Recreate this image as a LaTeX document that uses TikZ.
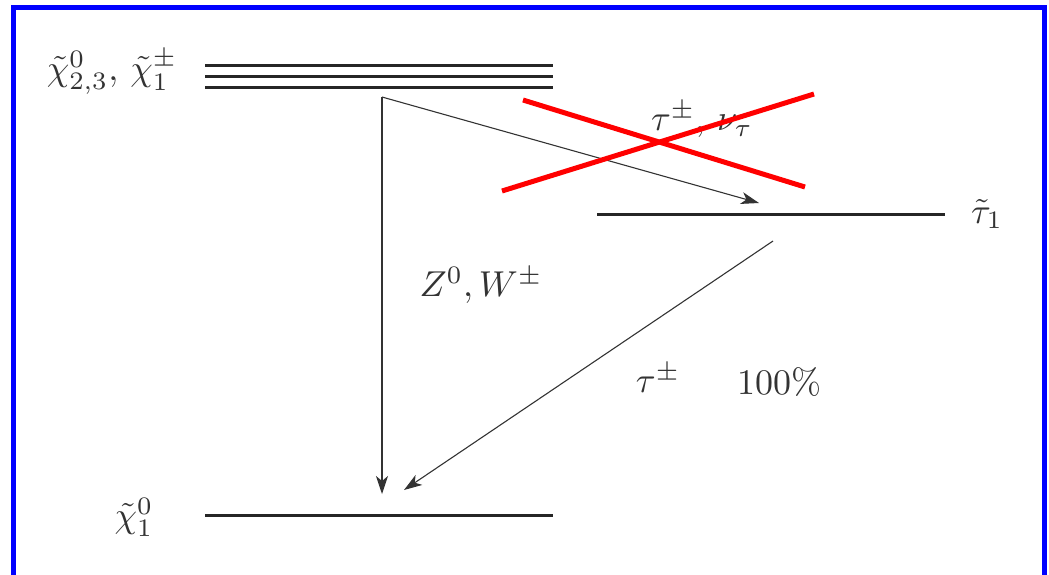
\documentclass[tikz,border=0pt]{standalone}
\usetikzlibrary{arrows.meta}
\begin{document}
\begin{tikzpicture}[x=1pt,y=-1pt,
  lvl/.style={line width=3pt,black!85},
  decay/.style={line width=1.1pt,black!80,-{Stealth[length=18pt,width=12pt,inset=5pt]}},
  veto/.style={line width=5pt,red},
  lab/.style={inner sep=0pt,scale=3.6,text=black!80}]
\useasboundingbox (0,0) rectangle (1049,574);
\begin{scope}
\clip (0,0) rectangle (1049,574);
\draw[line width=5pt,blue] (13.5,7.5) rectangle (1044.5,600);
\end{scope}
% levels
\draw[lvl] (205,65) -- (553,65);
\draw[lvl] (205,76) -- (553,76);
\draw[lvl] (205,87) -- (553,87);
\draw[lvl] (597,214) -- (945,214);
\draw[lvl] (205,515) -- (553,515);
% labels
\node[lab] (lchi) at (112,72) {$\tilde\chi^0_{2,3},\,\tilde\chi^\pm_1$};
\node[lab] (lstau) at (987,214) {$\tilde\tau_1$};
\node[lab] (llsp) at (134,517) {$\tilde\chi^0_1$};
\node[lab] (lzw) at (481,285) {$Z^0, W^\pm$};
\node[lab] (ltaunu) at (702,120) {$\tau^\pm,\,\nu_\tau$};
\node[lab] (ltau) at (658,378) {$\tau^\pm$};
\node[lab] (lbr) at (779,382) {$100\%$};
% arrow endpoints
\coordinate (src) at (382,97);
\coordinate (lspA) at (382,494);
\coordinate (stauA) at (759,203);
\coordinate (stauS) at (773,241);
\coordinate (lspB) at (404,490);
\draw[decay] (src) -- (lspA);
\draw[decay] (src) -- (stauA);
\draw[decay] (stauS) -- (lspB);
% red cross
\coordinate (c1a) at (523,100);
\coordinate (c1b) at (805,187);
\coordinate (c2a) at (502,191);
\coordinate (c2b) at (814,94);
\draw[veto] (c1a) -- (c1b);
\draw[veto] (c2a) -- (c2b);
\end{tikzpicture}
\end{document}
